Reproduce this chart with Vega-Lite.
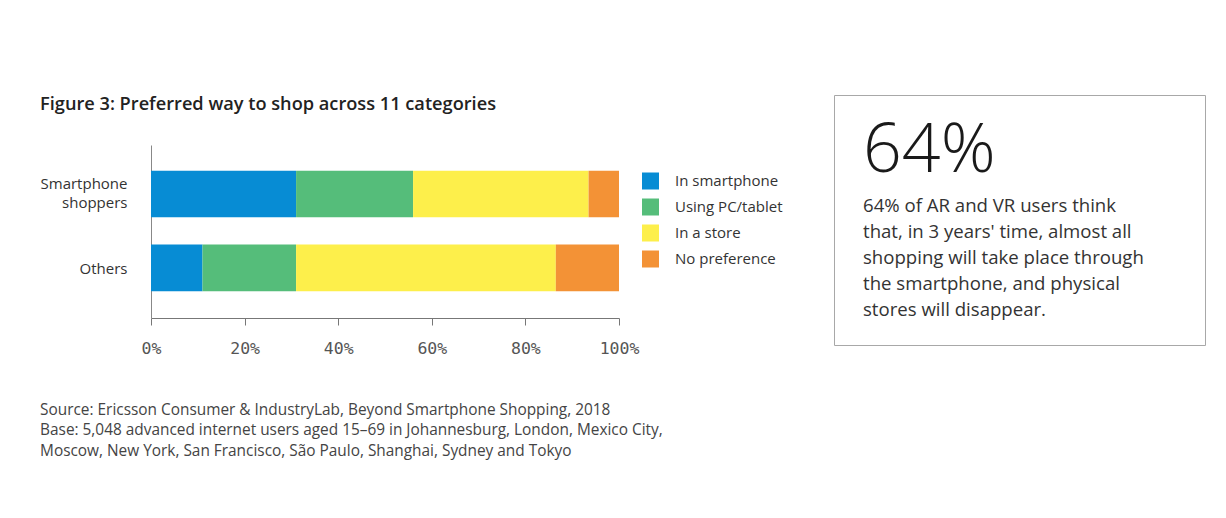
{
  "$schema": "https://vega.github.io/schema/vega-lite/v6.json",
  "background": "white",
  "padding": {"left": 40, "top": 94, "right": 5, "bottom": 5},
  "title": {
    "text": ["Source: Ericsson Consumer & IndustryLab, Beyond Smartphone Shopping, 2018", "Base: 5,048 advanced internet users aged 15–69 in Johannesburg, London, Mexico City,", "Moscow, New York, San Francisco, São Paulo, Shanghai, Sydney and Tokyo"],
    "orient": "bottom",
    "anchor": "start",
    "frame": "bounds",
    "font": "Open Sans",
    "fontSize": 15.4,
    "fontWeight": "normal",
    "color": "#444",
    "lineHeight": 20.5,
    "offset": 46
  },
  "spacing": 194,
  "hconcat": [
    {
      "width": 468,
      "height": 223,
      "title": {
        "text": "Figure 3: Preferred way to shop across 11 categories",
        "anchor": "start",
        "frame": "bounds",
        "font": "Open Sans",
        "fontSize": 18.2,
        "fontWeight": 600,
        "color": "#222",
        "offset": -19
      },
      "view": {"stroke": null},
      "data": {
        "values": [
          {"group": "Smartphone shoppers", "mode": "In smartphone", "share": 31, "order": 1},
          {"group": "Smartphone shoppers", "mode": "Using PC/tablet", "share": 25, "order": 2},
          {"group": "Smartphone shoppers", "mode": "In a store", "share": 37.5, "order": 3},
          {"group": "Smartphone shoppers", "mode": "No preference", "share": 6.5, "order": 4},
          {"group": "Others", "mode": "In smartphone", "share": 11, "order": 1},
          {"group": "Others", "mode": "Using PC/tablet", "share": 20, "order": 2},
          {"group": "Others", "mode": "In a store", "share": 55.5, "order": 3},
          {"group": "Others", "mode": "No preference", "share": 13.5, "order": 4}
        ]
      },
      "mark": {"type": "bar", "strokeWidth": 0},
      "encoding": {
        "y": {
          "field": "group",
          "type": "nominal",
          "sort": ["Smartphone shoppers", "Others"],
          "scale": {"paddingInner": 0.369, "paddingOuter": 0.694, "align": 0.738},
          "axis": {
            "title": null,
            "ticks": false,
            "domainColor": "#888",
            "domainDash": [0, 50, 300],
            "labelPadding": 24,
            "labelFont": "Open Sans",
            "labelFontSize": 15,
            "labelColor": "#333",
            "labelLineHeight": 19.5,
            "labelOffset": {"condition": {"test": "datum.value == 'Others'", "value": 1}, "value": -10},
            "labelExpr": "split(datum.label, ' ')"
          }
        },
        "x": {
          "field": "share",
          "type": "quantitative",
          "stack": "zero",
          "scale": {"domain": [0, 100]},
          "axis": {
            "title": null,
            "grid": false,
            "values": [0, 20, 40, 60, 80, 100],
            "labelExpr": "datum.value + '%'",
            "labelFlush": false,
            "domainColor": "#777",
            "tickColor": "#777",
            "tickSize": 7,
            "labelFont": "DejaVu Sans Mono",
            "labelFontSize": 16.5,
            "labelColor": "#555",
            "labelPadding": 15
          }
        },
        "order": {"field": "order", "type": "quantitative"},
        "color": {
          "field": "mode",
          "type": "nominal",
          "scale": {
            "domain": ["In smartphone", "Using PC/tablet", "In a store", "No preference"],
            "range": ["#078cd4", "#55bd7a", "#fdef4b", "#f39236"]
          },
          "legend": {
            "title": null,
            "orient": "none",
            "legendX": 491,
            "legendY": 77.5,
            "padding": 0,
            "symbolType": "square",
            "symbolSize": 289,
            "symbolStrokeWidth": 0,
            "labelFont": "Open Sans",
            "labelFontSize": 15,
            "labelColor": "#333",
            "labelOffset": 16,
            "rowPadding": 9
          }
        }
      }
    },
    {
      "width": 371,
      "height": 250,
      "view": {"stroke": "#a8a8a8", "strokeWidth": 1},
      "title": {
        "text": "64%",
        "subtitle": ["64% of AR and VR users think", "that, in 3 years' time, almost all", "shopping will take place through", "the smartphone, and physical", "stores will disappear."],
        "anchor": "start",
        "frame": "group",
        "dx": 29,
        "offset": -225,
        "font": "Open Sans",
        "fontSize": 68,
        "fontWeight": 300,
        "color": "#1a1a1a",
        "subtitleFont": "Open Sans",
        "subtitleFontSize": 18.6,
        "subtitleColor": "#333",
        "subtitleLineHeight": 26,
        "subtitlePadding": 11
      },
      "data": {"values": []},
      "mark": {"type": "text"},
      "encoding": {}
    }
  ]
}
